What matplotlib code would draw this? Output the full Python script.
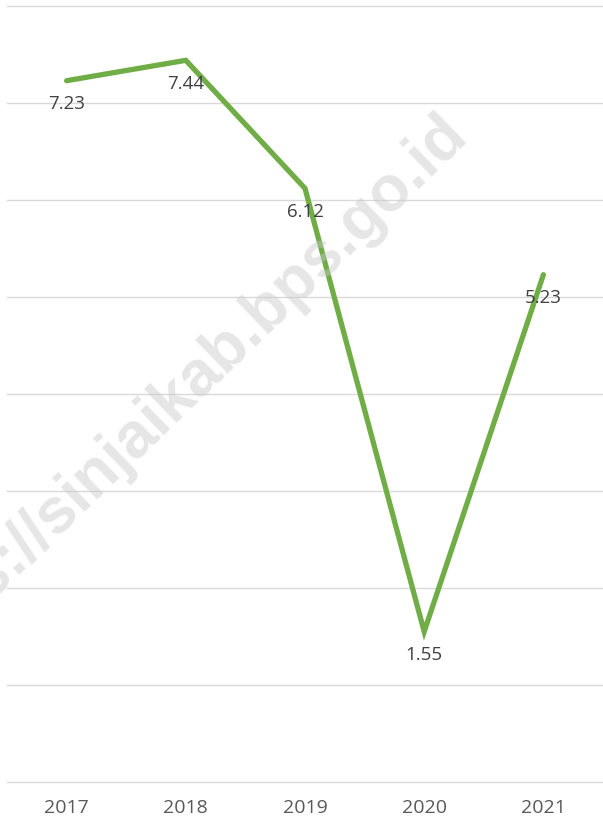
import matplotlib
matplotlib.use('Agg')
import matplotlib.pyplot as plt

years = ['2017', '2018', '2019', '2020', '2021']
values = [7.23, 7.44, 6.12, 1.55, 5.23]
watermark = 'https://sinjaikab.bps.go.id'

plt.rcParams['font.family'] = ['Open Sans', 'DejaVu Sans']

fig = plt.figure(figsize=(6.03, 8.26), dpi=100)
ax = fig.add_axes([7 / 603, 44 / 826, 596 / 603, 776 / 826])

x = list(range(len(years)))
ax.plot(x, values, color='#70ad47', lw=3.8, solid_capstyle='round', solid_joinstyle='miter', zorder=3)

for xi, v in zip(x, values):
    ax.annotate('%.2f' % v, (xi, v), xytext=(0, -17), textcoords='offset points',
                ha='center', va='center', fontsize=13.5, color='#404040', zorder=4)

ax.set_xlim(-0.5, 4.5)
ax.set_ylim(0, 8)
ax.set_yticks(range(0, 9))
ax.set_yticklabels([])
ax.set_xticks(x)
ax.set_xticklabels(years, fontsize=14, color='#595959')
ax.tick_params(axis='both', length=0)
ax.tick_params(axis='x', pad=12)
ax.grid(axis='y', color='#d9d9d9', lw=1)
for gl in ax.get_ygridlines():
    gl.set_clip_on(False)
ax.set_axisbelow(True)
for s in ax.spines.values():
    s.set_visible(False)

# watermark, partly off the left edge as in the original
fig.text(174 / 603, 1 - 398 / 826, watermark, rotation=44, ha='center', va='center',
         fontsize=46, fontweight='bold', family='Liberation Sans', color='#c8c8c8',
         alpha=0.45, zorder=10)

fig.savefig('out.png', dpi=100)
